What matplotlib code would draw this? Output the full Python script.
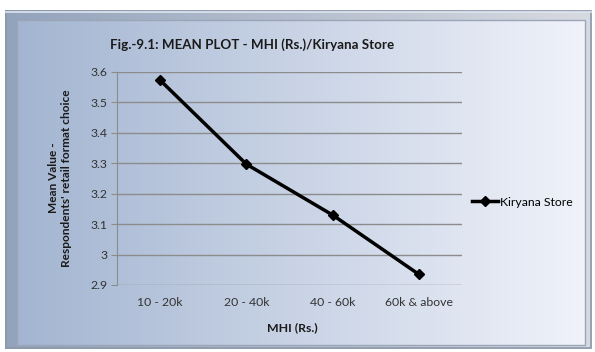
import numpy as np
import matplotlib
matplotlib.use("Agg")
import matplotlib.pyplot as plt
from matplotlib.patches import Rectangle

plt.rcParams['font.family'] = ['Lato', 'DejaVu Sans']

# mean value per income group
categories = ['10 - 20k', '20 - 40k', '40 - 60k', '60k & above']
mean_values = [3.573, 3.297, 3.130, 2.935]
series_name = 'Kiryana Store'
y_ticks = [2.9, 3.0, 3.1, 3.2, 3.3, 3.4, 3.5, 3.6]
y_tick_labels = ['2.9', '3', '3.1', '3.2', '3.3', '3.4', '3.5', '3.6']

W, H = 595, 352
fig = plt.figure(figsize=(W / 100, H / 100), dpi=100)
fig.patch.set_facecolor('white')

def fx(px):
  return px / W

def fy(py):
  return 1 - py / H

# background panel with a horizontal gradient
bg = fig.add_axes([fx(5), fy(349), fx(592) - fx(5), fy(10) - fy(349)])
bg.set_axis_off()
left_c = np.array([0.64, 0.71, 0.82])
right_c = np.array([0.94, 0.95, 0.98])
t = np.linspace(0, 1, 256)
grad = (left_c[None, :] * (1 - t[:, None]) + right_c[None, :] * t[:, None])[None, :, :]

# bevelled frame: darker outer strip, inner panel on top
bx = lambda px: (px - 5) / (592 - 5)
by = lambda py: 1 - (py - 10) / (349 - 10)
bg.imshow(grad * 0.9, aspect='auto', extent=[0, 1, 0, 1], zorder=1)
bg.imshow(grad, aspect='auto', extent=[bx(17), bx(585), by(345), by(20)], zorder=2)
bg.add_patch(Rectangle((0.001, 0.002), 0.997, 0.995, fill=False, ec='#8c98ab', lw=1.2, zorder=3))
bg.add_patch(Rectangle((bx(17), by(345)), bx(585) - bx(17), by(20) - by(345),
                       fill=False, ec='#9aa6b8', lw=1.0, zorder=3))
bg.plot([0.002, 0.998], [by(12), by(12)], color='#dfe6f0', lw=1.2, zorder=3)
bg.set_xlim(0, 1)
bg.set_ylim(0, 1)

# main plot area
ax = fig.add_axes([fx(117), fy(285), fx(462) - fx(117), fy(72) - fy(285)])
ax.patch.set_alpha(0)
x = np.arange(len(categories))
ax.plot(x, mean_values, color='black', lw=2.5, marker='D', ms=5.5,
        mec='black', mfc='black', label=series_name, zorder=5)
ax.set_xlim(-0.5, len(categories) - 0.5)
ax.set_ylim(2.9, 3.6)
ax.set_yticks(y_ticks)
ax.set_yticklabels(y_tick_labels)
ax.set_xticks(x)
ax.set_xticklabels(categories)
ax.grid(axis='y', color='#8c8c8c', lw=1.0)
ax.set_axisbelow(True)
for s in ['top', 'right', 'bottom']:
  ax.spines[s].set_visible(False)
ax.spines['left'].set_color('#8c8c8c')
ax.tick_params(axis='y', length=4, color='#8c8c8c', labelsize=8.8, labelcolor='#333333', pad=3)
ax.tick_params(axis='x', length=0, labelsize=8.8, labelcolor='#333333', pad=9)

fig.text(fx(252), fy(45), 'Fig.-9.1: MEAN PLOT - MHI (Rs.)/Kiryana Store',
         ha='center', va='center', fontsize=9.6, fontweight='bold', color='#1a1a1a')
fig.text(fx(292), fy(328), 'MHI (Rs.)', ha='center', va='center',
         fontsize=8.8, fontweight='bold', color='#1a1a1a')
fig.text(fx(60), fy(178), "Mean Value -\nRespondents' retail format choice",
         ha='center', va='center', rotation=90, fontsize=8.6, fontweight='bold',
         color='#1a1a1a', linespacing=1.3)

ax.legend(loc='center left', bbox_to_anchor=(fx(466), fy(202)), bbox_transform=fig.transFigure,
          frameon=False, fontsize=8.8, handlelength=2.1, handletextpad=0.15, borderpad=0)

fig.savefig('out.png', dpi=100)
